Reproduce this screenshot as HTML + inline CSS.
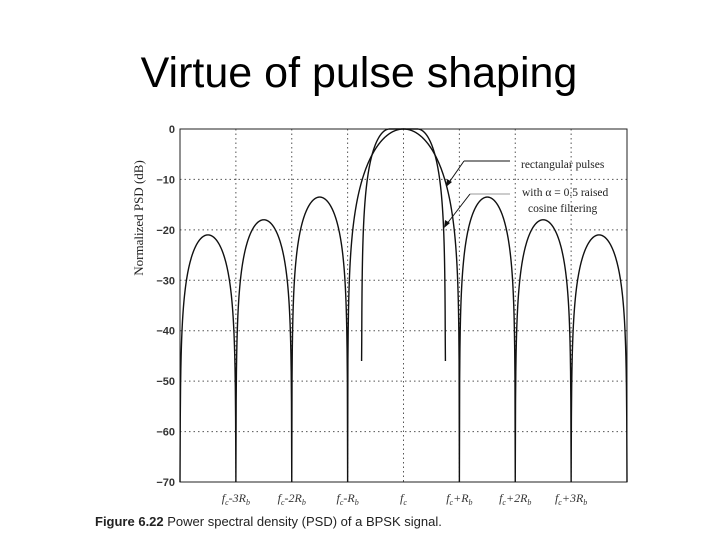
<!DOCTYPE html>
<html><head><meta charset="utf-8"><style>
body{margin:0;background:#fff;width:720px;height:540px;overflow:hidden}
svg{display:block}
</style></head><body>
<svg width="720" height="540" xmlns="http://www.w3.org/2000/svg">
<text x="359" y="87" text-anchor="middle" font-family="Liberation Sans, sans-serif" font-size="43">Virtue of pulse shaping</text>
<g id="grid"></g>
<g id="axes"></g>
<g id="series"></g>
<text transform="translate(143,218) rotate(-90)" text-anchor="middle" font-family="Liberation Serif, serif" font-size="13" fill="#222">Normalized PSD (dB)</text>
<g font-family="Liberation Serif, serif" font-size="11.5" fill="#222">
<line x1="464" y1="161" x2="510" y2="161" stroke="#111" stroke-width="1"/>
<line x1="464" y1="161" x2="448" y2="184" stroke="#111" stroke-width="1"/>
<polygon points="446,187 447,179 452,182" fill="#111"/>
<text x="521" y="168">rectangular pulses</text>
<line x1="470" y1="194" x2="510" y2="194" stroke="#999" stroke-width="1"/>
<line x1="470" y1="194" x2="446" y2="225" stroke="#111" stroke-width="1"/>
<polygon points="444,228 445,220 450,223" fill="#111"/>
<text x="522" y="196">with α = 0.5 raised</text>
<text x="528" y="212">cosine filtering</text>
</g>
<text x="95" y="526" font-family="Liberation Sans, sans-serif" font-size="13" fill="#222"><tspan font-weight="bold">Figure 6.22</tspan>    Power spectral density (PSD) of a BPSK signal.</text>
</svg>
<script>
const yTicks=[0,-10,-20,-30,-40,-50,-60,-70];
const xTickPos=[-3,-2,-1,0,1,2,3];
const xTickLabels=[["f","c","-3R","b"],["f","c","-2R","b"],["f","c","-R","b"],["f","c","",""],["f","c","+R","b"],["f","c","+2R","b"],["f","c","+3R","b"]];
// lobes of rectangular-pulse PSD: center (in Rb), peak dB
const lobeCenters=[-3.5,-2.5,-1.5,0,1.5,2.5,3.5];
const lobePeaks=[-21,-18,-13.5,0,-13.5,-18,-21];
const nullPos=[-3,-2,-1,1,2,3];
const nullDepth=[-70,-70,-70,-70,-70,-70];
const rcAlpha=[0.5];
const rcNullDepth=[-46];
const NS="http://www.w3.org/2000/svg";
const L=180,R=627,T=129,B=482;
const xs=f=>L+(f+4)/8*(R-L);
const ys=d=>T+(-d)/70*(B-T);
function el(t,a,p){const e=document.createElementNS(NS,t);for(const k in a)e.setAttribute(k,a[k]);p.appendChild(e);return e;}
const grid=document.getElementById('grid'),axes=document.getElementById('axes'),ser=document.getElementById('series');
yTicks.forEach((v,i)=>{
 if(v!==0&&v!==-70){const g=el('line',{x1:L,x2:R,y1:ys(v),y2:ys(v),stroke:'#555','stroke-dasharray':'1.5,3','stroke-width':1},grid);
 
 }
 const t=el('text',{x:L-5,y:ys(v)+4,'text-anchor':'end','font-family':'Liberation Sans, sans-serif','font-size':11,'font-weight':'bold',fill:'#333'},axes);
 t.textContent=(v<0?'\u2212'+(-v):v);
 
 
});
xTickPos.forEach((v,i)=>{
 const g=el('line',{x1:xs(v),x2:xs(v),y1:T,y2:B,stroke:'#555','stroke-dasharray':'1.5,3','stroke-width':1},grid);
 
 
 const lb=xTickLabels[i];
 const t=el('text',{x:xs(v),y:502,'text-anchor':'middle','font-family':'Liberation Serif, serif','font-size':12,'font-style':'italic',fill:'#333'},axes);
 
 
 const a=el('tspan',{},t);a.textContent=lb[0];
 const b=el('tspan',{dy:3,'font-size':8},t);b.textContent=lb[1];
 const c=el('tspan',{dy:-3},t);c.textContent=lb[2];
 if(lb[3]){const d=el('tspan',{dy:3,'font-size':8},t);d.textContent=lb[3];}
});
const fr=el('rect',{x:L,y:T,width:R-L,height:B-T,fill:'none',stroke:'#222','stroke-width':1},axes);


function rectDb(f){
 let i=lobeCenters.findIndex((c,k)=>Math.abs(f-c)<=(k===3?1:0.5));
 if(i<0)i=f<0?0:6;
 let d;
 if(i===3){const s=Math.abs(f)<1e-6?1:Math.sin(Math.PI*f)/(Math.PI*f);d=20*Math.log10(Math.abs(s)+1e-9);}
 else{d=lobePeaks[i]+20*Math.log10(Math.abs(Math.sin(Math.PI*f))+1e-9);}
 let nd=-70;nullPos.forEach((n,k)=>{if(Math.abs(f-n)<0.1)nd=nullDepth[k];});
 return Math.max(d,nd,-70);
}
let p='';
for(let k=0;k<=1600;k++){const f=-4+k*8/1600;p+=(k?'L':'M')+xs(f).toFixed(2)+','+ys(rectDb(f)).toFixed(2);}
const rc1=el('path',{d:p,fill:'none',stroke:'#111','stroke-width':1.4},ser);


const a=rcAlpha[0],f1=(1-a)/2,f2=(1+a)/2;
function rcDb(f){const u=Math.abs(f);let H;
 if(u<=f1)H=1;else if(u<f2)H=0.5*(1+Math.cos(Math.PI*(u-f1)/a));else H=0;
 return Math.max(10*Math.log10(H+1e-12),rcNullDepth[0]);}
let q='';
for(let k=0;k<=600;k++){const f=-f2+k*2*f2/600;q+=(k?'L':'M')+xs(f).toFixed(2)+','+ys(rcDb(f)).toFixed(2);}
const rc2=el('path',{d:q,fill:'none',stroke:'#111','stroke-width':1.4},ser);


</script>
</body></html>
